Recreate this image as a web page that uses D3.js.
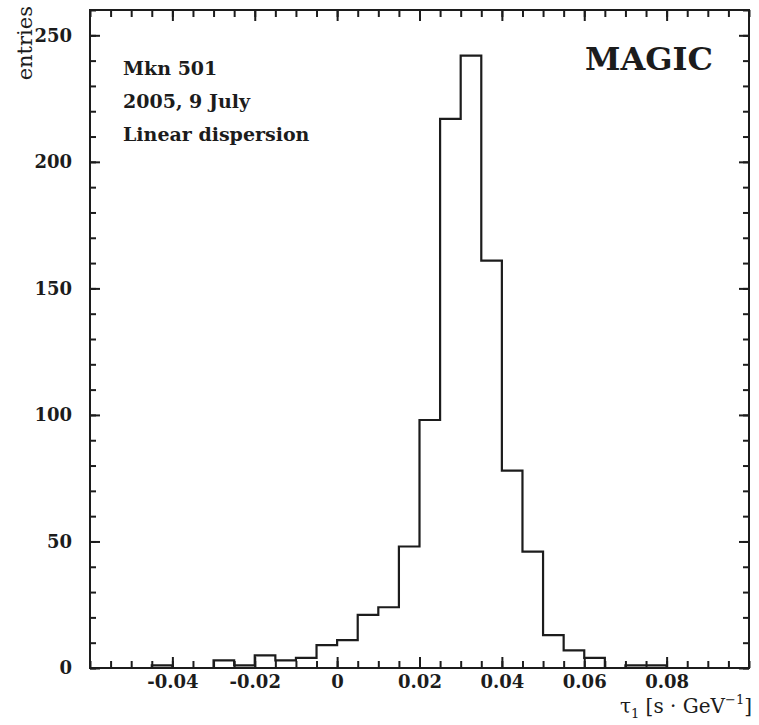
<!DOCTYPE html>
<html>
<head>
<meta charset="utf-8">
<script src="https://cdn.jsdelivr.net/npm/d3@7"></script>
<style>
    body { margin: 0; background: #ffffff; }
    svg text { font-family: "DejaVu Serif", "Liberation Serif", serif; fill: #1c1c1c; }
</style>
</head>
<body>
<div id="canvas"></div>
<script>
/* Histogram data: lower bin edges and counts (bin width 0.005) */
const binLow = [
    -0.060, -0.055, -0.050, -0.045, -0.040, -0.035, -0.030, -0.025,
    -0.020, -0.015, -0.010, -0.005, 0.000, 0.005, 0.010, 0.015,
    0.020, 0.025, 0.030, 0.035, 0.040, 0.045, 0.050, 0.055,
    0.060, 0.065, 0.070, 0.075, 0.080, 0.085, 0.090, 0.095
];
const binHigh = [
    -0.055, -0.050, -0.045, -0.040, -0.035, -0.030, -0.025, -0.020,
    -0.015, -0.010, -0.005, 0.000, 0.005, 0.010, 0.015, 0.020,
    0.025, 0.030, 0.035, 0.040, 0.045, 0.050, 0.055, 0.060,
    0.065, 0.070, 0.075, 0.080, 0.085, 0.090, 0.095, 0.100
];
const entries = [
    0, 0, 0, 1, 0, 0, 3, 1,
    5, 3, 4, 9, 11, 21, 24, 48,
    98, 217, 242, 161, 78, 46, 13, 7,
    4, 0, 1, 1, 0, 0, 0, 0
];

const xTickValues = [-0.04, -0.02, 0, 0.02, 0.04, 0.06, 0.08];
const xTickLabels = ['-0.04', '-0.02', '0', '0.02', '0.04', '0.06', '0.08'];
const yTickValues = [0, 50, 100, 150, 200, 250];
const infoLines = ['Mkn 501', '2005, 9 July', 'Linear dispersion'];

function initVisualization() {
    'use strict';

    const config = {
        width: 759,
        height: 725,
        margin: { top: 10, right: 10, bottom: 57, left: 90 },
        xDomain: [-0.06, 0.1],
        yDomain: [0, 260],
        ink: '#1c1c1c'
    };

    const left = config.margin.left;
    const right = config.width - config.margin.right;
    const top = config.margin.top;
    const bottom = config.height - config.margin.bottom;

    const x = d3.scaleLinear().domain(config.xDomain).range([left, right]);
    const y = d3.scaleLinear().domain(config.yDomain).range([bottom, top]);

    const svg = d3.select('#canvas').append('svg')
        .attr('width', config.width)
        .attr('height', config.height);

    /* Axes: ticks on all four sides, pointing inward */
    const xMinor = x.ticks(32);
    const yMinor = d3.range(0, 261, 10);

    function styleAxis(g) {
        g.select('.domain').remove();
        g.selectAll('line').attr('stroke', config.ink).attr('stroke-width', 2);
    }

    svg.append('g')
        .attr('transform', `translate(0,${bottom})`)
        .call(d3.axisBottom(x).tickValues(xMinor).tickSize(-7).tickFormat(''))
        .call(styleAxis);

    const xAxis = svg.append('g')
        .attr('transform', `translate(0,${bottom})`)
        .call(d3.axisBottom(x).tickValues(xTickValues).tickSize(-11).tickPadding(7)
            .tickFormat((d, i) => xTickLabels[i]))
        .call(styleAxis);

    svg.append('g')
        .attr('transform', `translate(0,${top})`)
        .call(d3.axisTop(x).tickValues(xMinor).tickSize(-7).tickFormat(''))
        .call(styleAxis);
    svg.append('g')
        .attr('transform', `translate(0,${top})`)
        .call(d3.axisTop(x).tickValues(xTickValues).tickSize(-11).tickFormat(''))
        .call(styleAxis);

    svg.append('g')
        .attr('transform', `translate(${left},0)`)
        .call(d3.axisLeft(y).tickValues(yMinor).tickSize(-6).tickFormat(''))
        .call(styleAxis);

    const yAxis = svg.append('g')
        .attr('transform', `translate(${left},0)`)
        .call(d3.axisLeft(y).tickValues(yTickValues).tickSize(-10).tickPadding(18))
        .call(styleAxis);

    svg.append('g')
        .attr('transform', `translate(${right},0)`)
        .call(d3.axisRight(y).tickValues(yMinor).tickSize(-6).tickFormat(''))
        .call(styleAxis);
    svg.append('g')
        .attr('transform', `translate(${right},0)`)
        .call(d3.axisRight(y).tickValues(yTickValues).tickSize(-10).tickFormat(''))
        .call(styleAxis);

    [xAxis, yAxis].forEach(g => {
        g.selectAll('text')
            .style('font-family', '"DejaVu Serif", serif')
            .style('font-size', '18px')
            .style('font-weight', 'bold')
            .attr('fill', config.ink);
    });

    /* Histogram outline */
    const steps = [];
    binLow.forEach((lo, i) => {
        steps.push([lo, entries[i]]);
        steps.push([binHigh[i], entries[i]]);
    });

    const line = d3.line()
        .x(d => x(d[0]))
        .y(d => y(d[1]));

    svg.append('path')
        .datum(steps)
        .attr('d', line)
        .attr('fill', 'none')
        .attr('stroke', config.ink)
        .attr('stroke-width', 2.2)
        .attr('stroke-linejoin', 'miter');

    /* Frame */
    svg.append('rect')
        .attr('x', left)
        .attr('y', top)
        .attr('width', right - left)
        .attr('height', bottom - top)
        .attr('fill', 'none')
        .attr('stroke', config.ink)
        .attr('stroke-width', 2);

    /* Axis titles */
    svg.append('text')
        .attr('transform', `translate(32,6) rotate(-90)`)
        .attr('text-anchor', 'end')
        .style('font-size', '21px')
        .text('entries');

    const xTitle = svg.append('text')
        .attr('x', 752)
        .attr('y', 713)
        .attr('text-anchor', 'end')
        .style('font-size', '20px');
    xTitle.append('tspan').text('τ');
    xTitle.append('tspan').attr('dy', 5).style('font-size', '13px').text('1');
    xTitle.append('tspan').attr('dy', -5).text('  [s · GeV');
    xTitle.append('tspan').attr('dy', -9).style('font-size', '13px').text('−1');
    xTitle.append('tspan').attr('dy', 9).text(']');

    /* Annotations */
    svg.append('g')
        .selectAll('text')
        .data(infoLines)
        .join('text')
        .attr('x', 123)
        .attr('y', (d, i) => 75 + i * 33)
        .style('font-size', '19px')
        .style('font-weight', 'bold')
        .text(d => d);

    svg.append('text')
        .attr('x', 713)
        .attr('y', 70)
        .attr('text-anchor', 'end')
        .style('font-size', '32px')
        .style('font-weight', 'bold')
        .text('MAGIC');
}

if (document.readyState === 'loading') {
    document.addEventListener('DOMContentLoaded', initVisualization);
} else {
    initVisualization();
}
</script>
</body>
</html>
